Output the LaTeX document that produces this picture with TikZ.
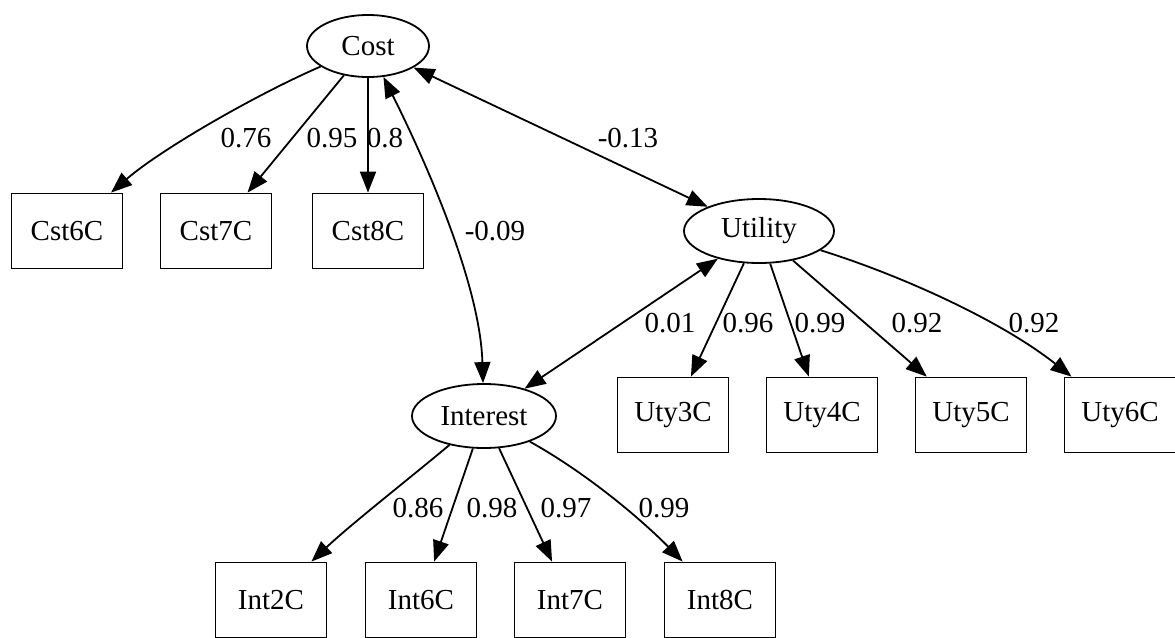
\documentclass[tikz,border=0pt]{standalone}
\usepackage{fontspec}
\setmainfont{Liberation Serif}
\usetikzlibrary{arrows.meta,shapes.geometric}

\begin{document}
\begin{tikzpicture}[x=0.5pt,y=-0.5pt,font=\fontsize{14.5}{17}\selectfont,
		latent/.style={draw,ellipse,inner sep=0pt,line width=0.9pt},
		manifest/.style={draw,rectangle,minimum width=55.5pt,minimum height=37.5pt,inner sep=0pt,line width=0.9pt},
		load/.style={-{Triangle[length=10.5pt,width=8pt]},line width=0.9pt},
		cov/.style={{Triangle[length=10.5pt,width=8pt]}-{Triangle[length=10.5pt,width=8pt]},line width=0.9pt}]
		\useasboundingbox (0,0) rectangle (1175,638);
		
		%factors
		\node[latent,minimum width=61pt,minimum height=31pt] (cost) at (368,46){Cost};
		\node[latent,minimum width=75pt,minimum height=32pt] (utility) at (759,231){Utility};
		\node[latent,minimum width=72pt,minimum height=32pt] (interest) at (484,416){Interest};
		
		%indicators
		\node[manifest] (cst6) at (67,231){Cst6C};
		\node[manifest] (cst7) at (216,231){Cst7C};
		\node[manifest] (cst8) at (368,231){Cst8C};
		\node[manifest] (uty3) at (673,415){Uty3C};
		\node[manifest] (uty4) at (822,415){Uty4C};
		\node[manifest] (uty5) at (971,415){Uty5C};
		\node[manifest] (uty6) at (1120,415){Uty6C};
		\node[manifest] (int2) at (271,600){Int2C};
		\node[manifest] (int6) at (421,600){Int6C};
		\node[manifest] (int7) at (570,600){Int7C};
		\node[manifest] (int8) at (720,600){Int8C};
		
		%loadings
		\draw[load] (cost) .. controls (255,95) and (160,150) .. (cst6);
		\draw[load] (cost) -- (cst7);
		\draw[load] (cost) -- (cst8);
		\draw[load] (utility) -- (uty3);
		\draw[load] (utility) -- (uty4);
		\draw[load] (utility) -- (uty5);
		\draw[load] (utility) .. controls (900,275) and (1000,320) .. (uty6);
		\draw[load] (interest) .. controls (410,478) and (350,525) .. (int2);
		\draw[load] (interest) -- (int6);
		\draw[load] (interest) -- (int7);
		\draw[load] (interest) .. controls (595,478) and (650,528) .. (int8);
		
		%covariances
		\draw[cov] (cost) -- (utility);
		\draw[cov] (cost) .. controls (420,150) and (480,280) .. (interest);
		\draw[cov] (utility) -- (interest);
		
		\node (l1) at (246,138){0.76};
		\node (l2) at (332,138){0.95};
		\node (l3) at (385,138){0.8};
		\node (l4) at (628,138){-0.13};
		\node (l5) at (495,231){-0.09};
		\node (l6) at (670,323){0.01};
		\node (l7) at (748,323){0.96};
		\node (l8) at (820,323){0.99};
		\node (l9) at (917,323){0.92};
		\node (l10) at (1034,323){0.92};
		\node (l11) at (418,508){0.86};
		\node (l12) at (492,508){0.98};
		\node (l13) at (566,508){0.97};
		\node (l14) at (664,508){0.99};
\end{tikzpicture}
\end{document}
